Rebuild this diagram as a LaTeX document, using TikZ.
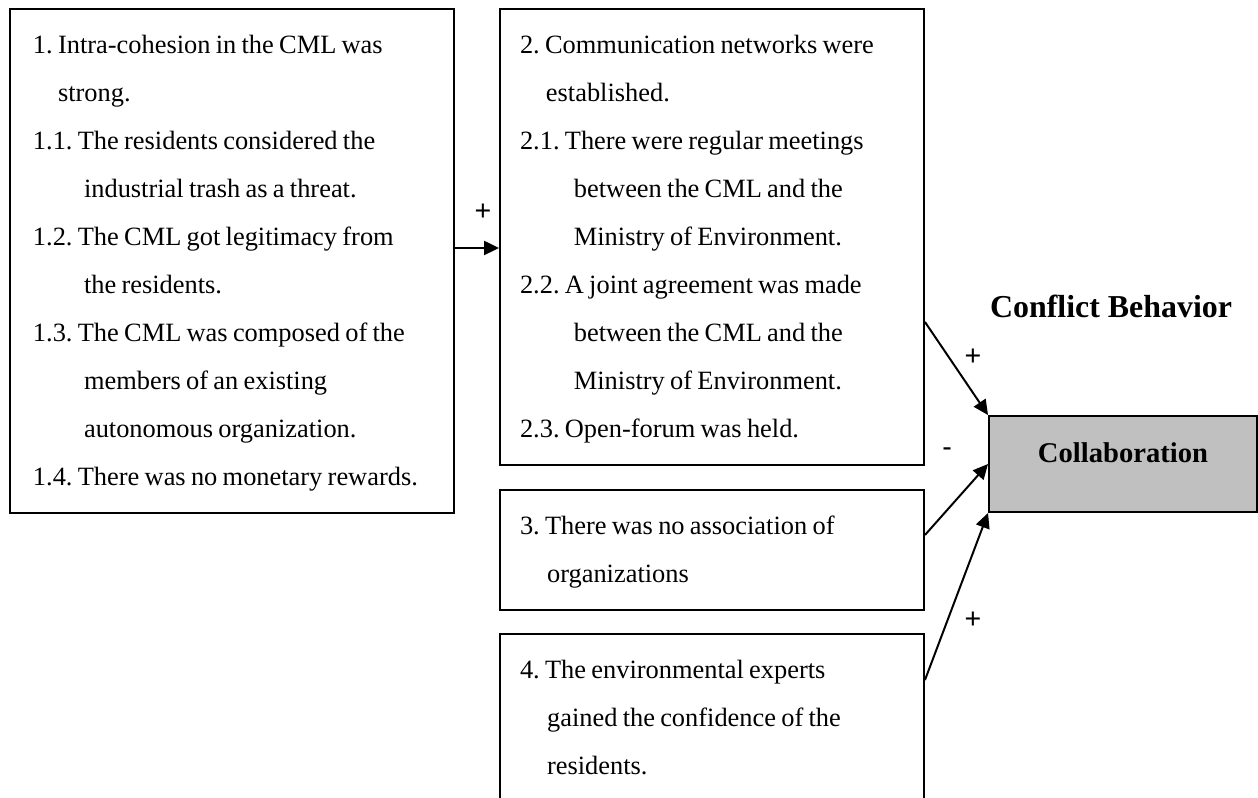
\documentclass[tikz,border=0pt]{standalone}
\usepackage{fontspec}
\setmainfont{Liberation Serif}
\setsansfont{Liberation Sans}
\usetikzlibrary{arrows.meta}
\definecolor{silver}{RGB}{192,192,192}
\newcommand{\topgap}{\spaceskip=0.2em plus 0.1em minus 0.02em\relax\rule{0pt}{20.45pt}}
\newcommand{\botgap}{\rule[-12.27pt]{0pt}{12.27pt}}
\frenchspacing

\begin{document}
\begin{tikzpicture}[x=0.4545pt,y=-0.4545pt,
    factor/.style={draw, line width=0.9pt, anchor=north west, inner xsep=9.1pt,
        inner ysep=0pt, text width=174.5pt, align=left,
        font=\fontsize{12}{21.8}\selectfont},
    result/.style={draw, line width=0.9pt, fill=silver, minimum width=121.8pt,
        minimum height=43.6pt, text height=8.8pt, text depth=10.6pt,
        font=\fontsize{13}{15}\selectfont\bfseries},
    arr/.style={-{Triangle[length=6.8pt,width=6.4pt]}, line width=0.9pt},
    sign/.style={font=\fontsize{13}{15}\sffamily}]
    \useasboundingbox (0,0) rectangle (1258,798);

    % the four groups of factors
    \node[factor, inner xsep=10.45pt, text width=180.9pt] (f1) at (9,8) {\topgap
        1. Intra-cohesion in the CML was\\
        \hspace*{11.4pt}strong.\\
        1.1. The residents considered the\\
        \hspace*{23.2pt}industrial trash as a threat.\\
        1.2. The CML got legitimacy from\\
        \hspace*{23.2pt}the residents.\\
        1.3. The CML was composed of the\\
        \hspace*{23.2pt}members of an existing\\
        \hspace*{23.2pt}autonomous organization.\\
        1.4. There was no monetary rewards.\botgap};
    \node[factor] (f2) at (499,8) {\topgap
        2. Communication networks were\\
        \hspace*{11.8pt}established.\\
        2.1. There were regular meetings\\
        \hspace*{24.5pt}between the CML and the\\
        \hspace*{24.5pt}Ministry of Environment.\\
        2.2. A joint agreement was made\\
        \hspace*{24.5pt}between the CML and the\\
        \hspace*{24.5pt}Ministry of Environment.\\
        2.3. Open-forum was held.\botgap};
    \node[factor] (f3) at (499,489) {\topgap
        3. There was no association of\\
        \hspace*{12.3pt}organizations\botgap};
    \node[factor] (f4) at (499,633) {\topgap
        4. The environmental experts\\
        \hspace*{12.3pt}gained the confidence of the\\
        \hspace*{12.3pt}residents.\botgap};

    % outcome
    \node[result] (collab) at (1123,464) {Collaboration};
    \node[anchor=base, font=\fontsize{14.5}{17}\selectfont\bfseries] (cb) at (1111,318) {Conflict Behavior};

    \draw[arr] (f1.east |- 0,248) -- (f2.west |- 0,248);
    \draw[arr] (f2.east |- 0,322) -- (collab.north west);
    \draw[arr] (f3.east |- 0,535) -- (collab.west);
    \draw[arr] (f4.east |- 0,680) -- (collab.south west);

    \node[sign] (s1) at (483,212) {+};
    \node[sign] (s2) at (973,357) {+};
    \node[sign] (s3) at (947,452) {-};
    \node[sign] (s4) at (973,620) {+};
\end{tikzpicture}
\end{document}
